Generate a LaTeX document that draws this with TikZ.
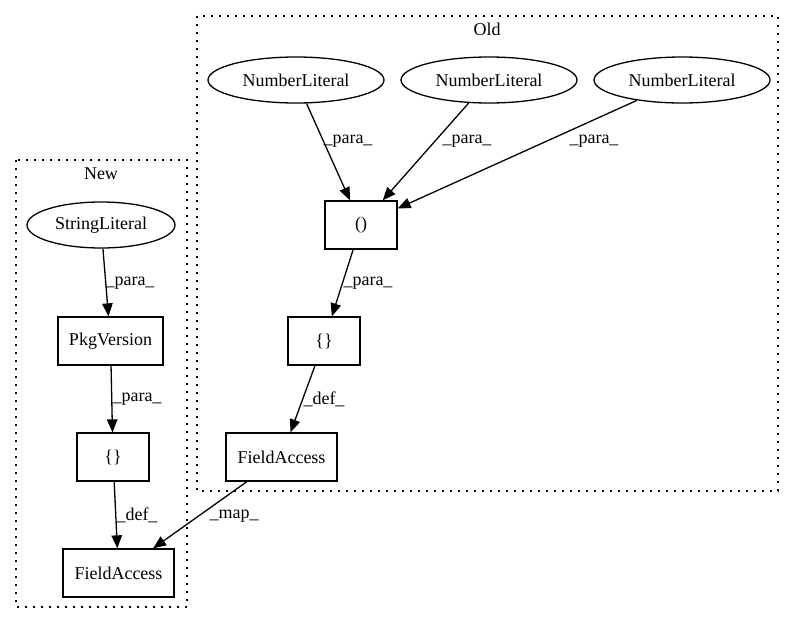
\documentclass[tikz,border=0pt]{standalone}
\usepackage{fontspec}
\setmainfont{Liberation Serif}
\usetikzlibrary{shapes.geometric,arrows.meta}
\begin{document}
\begin{tikzpicture}[x=1pt,y=-1pt,
  every node/.style={font=\fontsize{18}{22}\selectfont, inner sep=0pt},
  ell/.style={draw, ellipse, line width=1.3pt, minimum height=46pt},
  rectbox/.style={draw, rectangle, line width=1.3pt, minimum height=48pt},
  conn/.style={line width=1.3pt, -{Triangle[length=13pt,width=10.5pt]}},
  clusterbox/.style={line width=1.5pt, dash pattern=on 1.8pt off 6.2pt}]
\useasboundingbox (0,0) rectangle (792,624);
% clusters
\draw[clusterbox] (197,16) rectangle (778,491);
\node (oldlbl) at (487,29) {Old};
\draw[clusterbox] (16,160) rectangle (187,607);
\node (newlbl) at (101,174) {New};
% Old nodes
\node[ell, minimum width=176pt] (nl1) at (296,80) {NumberLiteral};
\node[ell, minimum width=176pt] (nl2) at (489,80) {NumberLiteral};
\node[ell, minimum width=176pt] (nl3) at (682,80) {NumberLiteral};
\node[rectbox, minimum width=72pt] (paren) at (361,225) {()};
\node[rectbox, minimum width=72pt] (obrace) at (324,341) {\{\}};
\node[rectbox, minimum width=111pt] (ofa) at (281.5,457) {FieldAccess};
% New nodes
\node[ell, minimum width=148pt] (sl) at (101,225) {StringLiteral};
\node[rectbox, minimum width=105pt] (pkg) at (110.5,341) {PkgVersion};
\node[rectbox, minimum width=72pt] (nbrace) at (113,457) {\{\}};
\node[rectbox, minimum width=111pt] (nfa) at (118.5,573) {FieldAccess};
% edges
\draw[conn] (nl1) -- (paren);
\draw[conn] (nl2) -- (paren);
\draw[conn] (nl3) -- (paren);
\draw[conn] (paren) -- (obrace);
\draw[conn] (obrace) -- (ofa);
\draw[conn] (sl) -- (pkg);
\draw[conn] (pkg) -- (nbrace);
\draw[conn] (nbrace) -- (nfa);
\draw[conn] (ofa) -- (nfa);
% edge labels
\node (e1) at (348,141) {\_para\_};
\node (e2) at (467,141) {\_para\_};
\node (e3) at (594,141) {\_para\_};
\node (e4) at (368,283) {\_para\_};
\node (e5) at (324,399) {\_def\_};
\node (e6) at (130,283) {\_para\_};
\node (e7) at (137,399) {\_para\_};
\node (e8) at (137,515) {\_def\_};
\node (e9) at (234,516) {\_map\_};
\end{tikzpicture}
\end{document}
